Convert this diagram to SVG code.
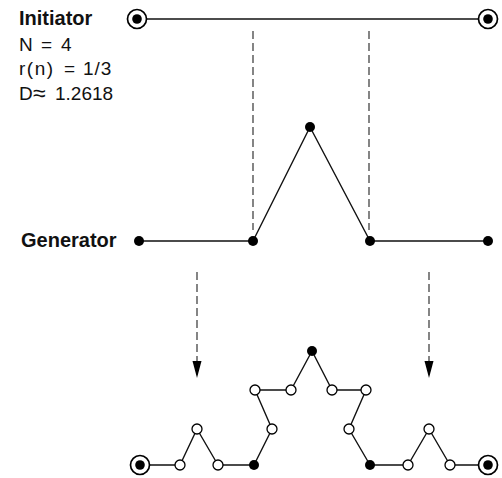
<svg xmlns="http://www.w3.org/2000/svg" width="502" height="478" viewBox="0 0 502 478">
<style>
.bg{fill:#fff}
.ln{fill:none;stroke:#111;stroke-width:1.4;stroke-linejoin:round}
.dash{fill:none;stroke:#222;stroke-width:1.1;stroke-dasharray:8 4}
.dot{fill:#000}
.ring{fill:#fff;stroke:#000;stroke-width:1.7}
.open{fill:#fff;stroke:#000;stroke-width:1.3}
.lbl{font-family:"Liberation Sans",Arial,sans-serif;font-weight:bold;font-size:20px;fill:#111}
.txt{font-family:"Liberation Sans",Arial,sans-serif;font-size:19px;fill:#111}
</style>
<defs>
<g id="cdot"><circle class="ring" r="9.5"/><circle class="dot" r="4.8"/></g>
</defs>
<rect class="bg" width="502" height="478"/>

<g id="labels">
<text class="lbl" x="19" y="25">Initiator</text>
<text class="txt" y="51"><tspan x="19">N</tspan><tspan x="41">=</tspan><tspan x="61">4</tspan></text>
<text class="txt" y="75"><tspan x="19" style="letter-spacing:1.5px">r(n)</tspan><tspan x="64">=</tspan><tspan x="83" style="letter-spacing:1px">1/3</tspan></text>
<text class="txt" y="100"><tspan x="19">D</tspan><tspan x="33" y="101" style="font-size:23px">≈</tspan><tspan x="55" y="100">1.2618</tspan></text>
<text class="lbl" x="21" y="247">Generator</text>
</g>

<g id="connectors">
<line class="dash" x1="253" y1="31" x2="253" y2="230"/>
<line class="dash" x1="369" y1="31" x2="369" y2="230"/>
<line class="dash" x1="197" y1="272" x2="197" y2="366"/>
<line class="dash" x1="429" y1="272" x2="429" y2="366"/>
<path class="dot" d="M192.5,361 L201.5,361 L197,378 Z"/>
<path class="dot" d="M424.5,361 L433.5,361 L429,378 Z"/>
</g>

<g id="initiator">
<line class="ln" x1="137" y1="19" x2="488" y2="19"/>
<use href="#cdot" x="137" y="19"/>
<use href="#cdot" x="488" y="19"/>
</g>

<g id="generator">
<polyline class="ln" points="139,241 253,241 310,127 370,241 488,241"/>
<circle class="dot" cx="139" cy="241" r="5"/>
<circle class="dot" cx="253" cy="241" r="5"/>
<circle class="dot" cx="310" cy="127" r="5"/>
<circle class="dot" cx="370" cy="241" r="5"/>
<circle class="dot" cx="488" cy="241" r="5"/>
</g>

<g id="result">
<polyline class="ln" points="140,465 180,465 197,429 218,465 254,465 272,429 255,390 291,390 312,351 332,390 366,390 349,429 370,465 408,465 429,429 450,465 488,465"/>
<use href="#cdot" x="140" y="465"/>
<circle class="open" cx="180" cy="465" r="5"/>
<circle class="open" cx="197" cy="429" r="5"/>
<circle class="open" cx="218" cy="465" r="5"/>
<circle class="dot" cx="254" cy="465" r="5"/>
<circle class="open" cx="272" cy="429" r="5"/>
<circle class="open" cx="255" cy="390" r="5"/>
<circle class="open" cx="291" cy="390" r="5"/>
<circle class="dot" cx="312" cy="351" r="5"/>
<circle class="open" cx="332" cy="390" r="5"/>
<circle class="open" cx="366" cy="390" r="5"/>
<circle class="open" cx="349" cy="429" r="5"/>
<circle class="dot" cx="370" cy="465" r="5"/>
<circle class="open" cx="408" cy="465" r="5"/>
<circle class="open" cx="429" cy="429" r="5"/>
<circle class="open" cx="450" cy="465" r="5"/>
<use href="#cdot" x="488" y="465"/>
</g>
</svg>
